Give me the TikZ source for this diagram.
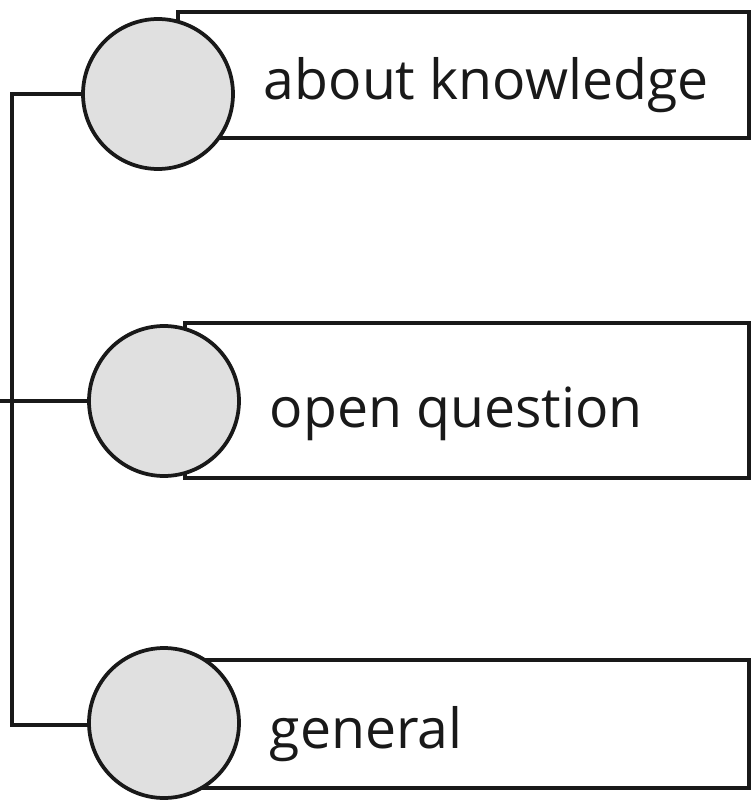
\documentclass[tikz,border=0pt]{standalone}
\usepackage{fontspec}
\setmainfont{Open Sans}
\begin{document}
\begin{tikzpicture}[x=0.02cm,y=-0.02cm,
  line width=0.075cm,
  box/.style={draw=black!90, fill=white, rectangle, inner sep=0pt, line width=0.075cm},
  disc/.style={draw=black!90, fill=black!12, circle, inner sep=0pt, minimum size=3.0cm, line width=0.075cm},
  lbl/.style={anchor=base west, inner sep=0pt, font=\fontsize{31.5}{38}\selectfont, text=black!90},
  wire/.style={draw=black!90, line width=0.075cm}]
\useasboundingbox (0,0) rectangle (750,800);
% boxes
\draw[box] (178,12) rectangle (749,138);
\draw[box] (185,323) rectangle (749,478);
\draw[box] (188,660) rectangle (749,788);
% discs
\node[disc] (c1) at (158,94) {};
\node[disc] (c2) at (164,401) {};
\node[disc] (c3) at (164,723) {};
% labels
\node[lbl] (t1) at (262,100) {about knowledge};
\node[lbl] (t2) at (268,427) {open question};
\node[lbl] (t3) at (268,748) {general};
% connectors
\coordinate (j1) at (12,94);
\coordinate (j3) at (12,725);
\coordinate (e2) at (0,401);
\draw[wire, line cap=rect] (c1.west) -- (j1) -- (j3) -- (c3.west |- j3);
\draw[wire] (e2) -- (c2.west);
\end{tikzpicture}
\end{document}
